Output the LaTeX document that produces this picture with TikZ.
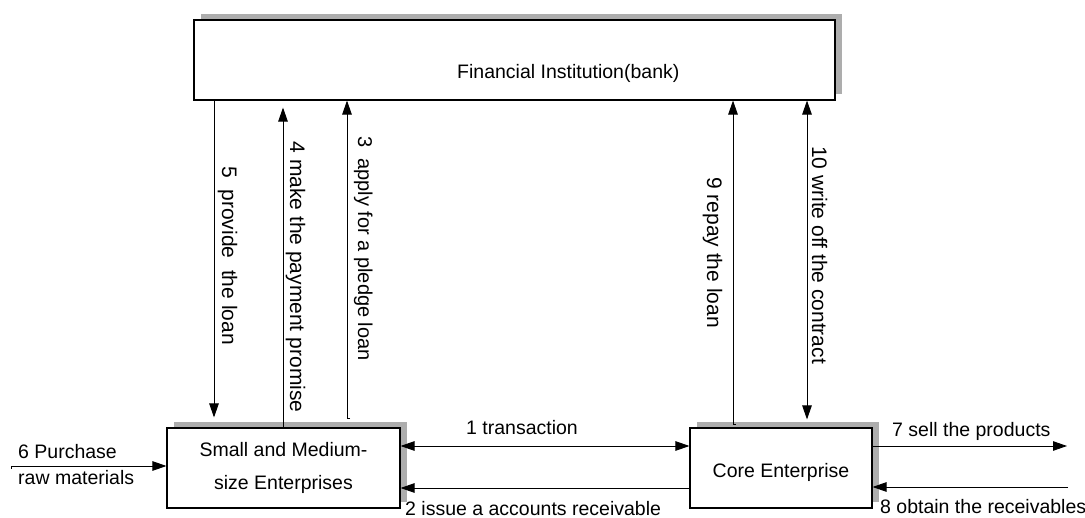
\documentclass[tikz,border=0pt]{standalone}
\usepackage{fontspec}
\setmainfont{Liberation Sans}
\usetikzlibrary{arrows.meta,shadows,calc}

\begin{document}
\begin{tikzpicture}[
  x=1pt, y=-1pt,
  box/.style={draw, line width=1.1pt, fill=white, rectangle, inner sep=0pt,
    general shadow={shadow xshift=7pt, shadow yshift=5.5pt, fill=black!32}},
  lbl/.style={inner sep=0pt, font={\fontsize{19.5pt}{33pt}\selectfont}},
  vlbl/.style={inner sep=0pt, rotate=-90, anchor=base, font={\fontsize{21pt}{25pt}\selectfont}},
  arr/.style={line width=0.9pt, -{Triangle[length=14pt,width=9.5pt]}},
  darr/.style={line width=0.9pt, {Triangle[length=14pt,width=9.5pt]}-{Triangle[length=14pt,width=9.5pt]}}
]
\useasboundingbox (0,0) rectangle (1085,518);

% boxes
\node[box, minimum width=641pt, minimum height=80pt] (bank) at (514.5,60) {};
\node[lbl, anchor=base west] (bankTitle) at (457,79) {Financial Institution(bank)};
\node[box, lbl, align=center, minimum width=233pt, minimum height=80pt] (sme) at (283.5,468)
  {Small and Medium-\\size Enterprises};
\node[box, minimum width=182pt, minimum height=80pt] (core) at (781,468) {};
\node[lbl, anchor=base] (coreTitle) at (781,478) {Core Enterprise};

% links between the enterprises and the bank
\draw[arr, shorten >=10pt] (214,0 |- bank.south) -- (214,0 |- sme.north);
\draw[arr, shorten >=7pt] (283,0 |- sme.north) -- (283,0 |- bank.south);
\coordinate (pledgeFoot) at ($(347,0 |- sme.north)+(0,-9)$);
\draw[arr] ($(pledgeFoot)+(3,0)$) -- (pledgeFoot) -- (pledgeFoot |- bank.south);
\coordinate (repayFoot) at ($(733,0 |- core.north)+(0,-3)$);
\draw[arr] ($(repayFoot)+(2.5,0)$) -- (repayFoot) -- (repayFoot |- bank.south);
\draw[darr, shorten >=8pt] (807,0 |- bank.south) -- (807,0 |- core.north);

\node[vlbl] (l5) at (222,255.5) {5\ \ provide\ \ the loan};
\node[vlbl] (l4) at (290,277) {4 make the payment promise};
\node[vlbl, font={\fontsize{20pt}{24pt}\selectfont}] (l3) at (358,248.5) {3\ \ apply for a pledge loan};
\node[vlbl] (l9) at (707,252.5) {9 repay the loan};
\node[vlbl] (l10) at (812,255) {10 write off the contract};

% links between the enterprises
\draw[darr] (sme.east |- 0,446) -- (core.west |- 0,446);
\draw[arr] (core.west |- 0,488) -- (sme.east |- 0,488);
\node[lbl, anchor=base] (l1) at (522,435) {1 transaction};
\node[lbl, anchor=base west] (l2) at (405,515) {2 issue a accounts receivable};

% market side
\coordinate (sellEnd) at (1067,446);
\draw[arr] (core.east |- sellEnd) -- (sellEnd);
\node[lbl, anchor=base west] (l7) at (892,437) {7 sell the products};
\coordinate (recvStart) at (1068,487);
\draw[arr] (recvStart) -- (core.east |- recvStart);
\node[lbl, anchor=base west] (l8) at (880,514) {8 obtain the receivables};

% supply side
\coordinate (buyStart) at (11,466);
\draw[arr] ($(buyStart)+(0,3)$) -- (buyStart) -- (sme.west |- buyStart);
\node[lbl, anchor=base west] (l6a) at (18,459) {6 Purchase};
\node[lbl, anchor=base west] (l6b) at (18,485) {raw materials};
\end{tikzpicture}
\end{document}
